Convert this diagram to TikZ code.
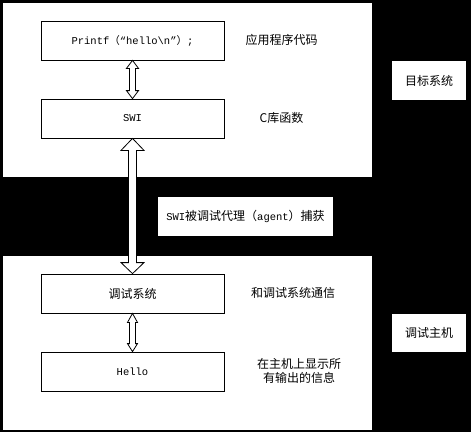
\documentclass[tikz,border=0pt]{standalone}
\usepackage{fontspec}
\setmainfont{Liberation Mono}
\newfontfamily\cjk{Noto Sans CJK SC}
\usetikzlibrary{calc}
\begin{document}
\begin{tikzpicture}[x=1pt,y=-1pt,
  box/.style={draw=black, line width=0.8pt, fill=white, minimum width=183pt, minimum height=39pt, inner sep=0pt, font=\fontsize{10.5}{12}\selectfont},
  side/.style={fill=white, inner sep=0pt, minimum width=74pt, minimum height=39pt, font=\cjk\fontsize{12}{14}\selectfont},
  note/.style={inner sep=0pt, font=\cjk\fontsize{12}{14}\selectfont, align=center},
  hollow/.style={draw=black, line width=0.8pt, fill=white, line join=miter}]
\useasboundingbox (0,0) rectangle (471,432);
\fill[black] (0,0) rectangle (471,432);
\fill[white] (3,3) rectangle (372,177);
\fill[white] (3,256) rectangle (372,430);

\node[box] (p) at (132.5,40.5) {Printf{\cjk（}“hello\textbackslash n”{\cjk）};};
\node[box] (s) at (132.5,118.5) {SWI};
\node[box, font=\cjk\fontsize{12}{14}\selectfont] (d) at (132.5,293.5) {调试系统};
\node[box] (h) at (132.5,371.5) {Hello};

\node[note] (t1) at (281.5,40) {应用程序代码};
\node[note] (t2) at (281.5,118) {C库函数};
\node[note] (t3) at (293,293) {和调试系统通信};
\node[note, font=\cjk\fontsize{12}{14.5}\selectfont] (t4) at (299,371) {在主机上显示所\\有输出的信息};

\node[side] (ts) at (429,80.5) {目标系统};
\node[side, minimum height=38pt] (hs) at (429,333) {调试主机};
\node[side, minimum width=175pt, font=\cjk\fontsize{12}{14}\selectfont] (ag) at (245.5,216.5) {{\rmfamily\fontsize{10.5}{12}\selectfont SWI}被调试代理（{\rmfamily\fontsize{10.5}{12}\selectfont agent}）捕获};

% double arrow Printf <-> SWI
\draw[hollow] (p.south) -- ($(p.south)+(6,8)$) -- ($(p.south)+(3,8)$) -- ($(s.north)+(3,-8)$) -- ($(s.north)+(6,-8)$) -- (s.north)
  -- ($(s.north)+(-6,-8)$) -- ($(s.north)+(-3,-8)$) -- ($(p.south)+(-3,8)$) -- ($(p.south)+(-6,8)$) -- cycle;
% big double arrow SWI <-> debug system
\draw[hollow] (s.south) -- ($(s.south)+(11.5,12)$) -- ($(s.south)+(4,12)$) -- ($(d.north)+(4,-11)$) -- ($(d.north)+(11.5,-11)$) -- (d.north)
  -- ($(d.north)+(-11.5,-11)$) -- ($(d.north)+(-4,-11)$) -- ($(s.south)+(-4,12)$) -- ($(s.south)+(-11.5,12)$) -- cycle;
% double arrow debug system <-> Hello
\draw[hollow] (d.south) -- ($(d.south)+(5,9)$) -- ($(d.south)+(3,9)$) -- ($(h.north)+(3,-8)$) -- ($(h.north)+(5,-8)$) -- (h.north)
  -- ($(h.north)+(-5,-8)$) -- ($(h.north)+(-3,-8)$) -- ($(d.south)+(-3,9)$) -- ($(d.south)+(-5,9)$) -- cycle;
\end{tikzpicture}
\end{document}
